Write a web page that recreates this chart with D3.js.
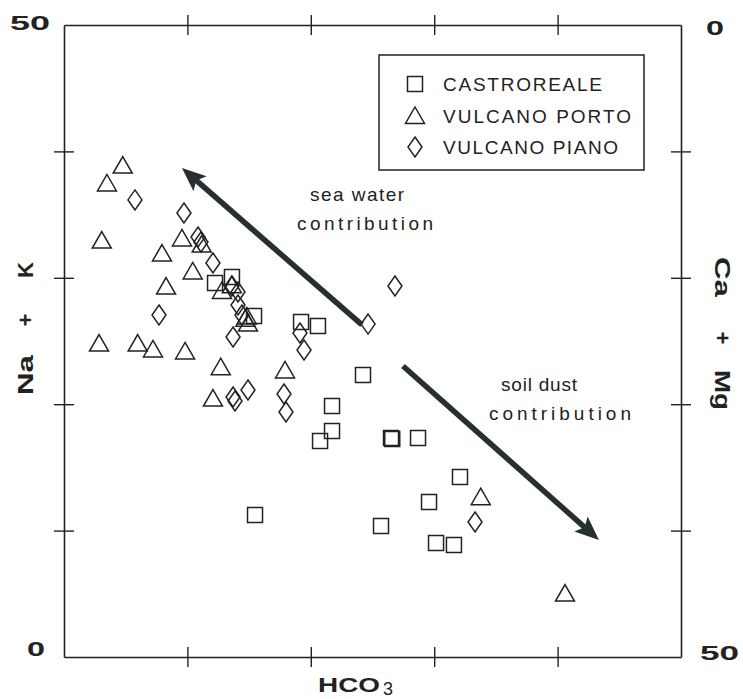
<!DOCTYPE html>
<html>
<head>
<meta charset="utf-8">
<script src="https://cdn.jsdelivr.net/npm/d3@7"></script>
<style>
  body { margin: 0; background: #fff; }
  svg { display: block; }
  text { font-family: "Liberation Sans", Arial, sans-serif; fill: #222; }
</style>
</head>
<body>
<svg id="chart" width="743" height="699"></svg>
<script>
// Water composition: HCO3 (x) against Na + K (left, %) and Ca + Mg (right, %)
const seriesNames = ["CASTROREALE", "VULCANO PORTO", "VULCANO PIANO"];
const tickValues = [10, 20, 30, 40];
const endLabelsLeft = ["0", "50"];
const endLabelsRight = ["0", "50"];

// [HCO3, Na + K]
const castroreale = [
  [12.24, 29.59], [13.61, 30.06], [15.40, 26.98], [15.48, 11.23],
  [19.21, 26.50], [20.58, 26.19], [24.23, 22.31], [21.72, 19.86],
  [21.72, 17.88], [20.75, 17.09], [26.50, 17.33], [26.60, 17.25],
  [28.69, 17.33], [32.09, 14.24], [29.58, 12.26], [25.69, 10.36],
  [30.15, 9.02], [31.60, 8.86]
];
const vulcanoPorto = [
  [4.76, 38.92], [3.48, 37.50], [3.06, 32.99], [9.56, 33.15],
  [11.16, 32.67], [7.94, 31.96], [10.43, 30.54], [8.27, 29.35],
  [2.84, 24.84], [5.97, 24.84], [7.21, 24.37], [9.81, 24.21],
  [12.70, 22.97], [12.07, 20.49], [12.80, 29.00], [13.60, 29.45],
  [14.81, 26.98], [14.70, 26.80], [14.91, 26.42], [17.91, 22.71],
  [33.77, 12.68], [40.60, 5.06]
];
const vulcanoPiano = [
  [5.75, 36.16], [9.72, 35.13], [10.86, 33.23], [11.10, 32.83],
  [12.07, 31.17], [7.70, 27.06], [13.61, 29.35], [14.10, 28.88],
  [14.10, 27.85], [14.42, 27.06], [13.70, 25.32], [14.91, 21.12],
  [13.70, 20.57], [13.86, 20.25], [17.83, 20.81], [17.99, 19.38],
  [19.12, 25.63], [19.45, 24.29], [24.64, 26.34], [26.82, 29.35],
  [33.31, 10.68]
];

const svg = d3.select("#chart");
const ink = "#222";

const x = d3.scaleLinear().domain([0, 50]).range([64, 681]);
const y = d3.scaleLinear().domain([0, 50]).range([657, 25]);      // Na + K
const yR = d3.scaleLinear().domain([0, 50]).range([25, 657]);     // Ca + Mg

// Frame with ticks that cross each side
function frameAxis(axis, translate, crossAttr) {
  const g = svg.append("g")
    .attr("transform", translate)
    .call(axis.tickValues(tickValues).tickSize(10).tickSizeOuter(0).tickFormat(""));
  g.select(".domain").attr("stroke", ink).attr("stroke-width", 1.6);
  g.selectAll(".tick line").attr("stroke", ink).attr("stroke-width", 1.4).attr(crossAttr[0], crossAttr[1]);
  return g;
}
frameAxis(d3.axisBottom(x), `translate(0,${y(0)})`, ["y1", -10]);
frameAxis(d3.axisTop(x), `translate(0,${y(50)})`, ["y1", 10]);
frameAxis(d3.axisLeft(y), `translate(${x(0)},0)`, ["x1", 10]);
frameAxis(d3.axisRight(yR), `translate(${x(50)},0)`, ["x1", -10]);

// End labels of the scales
const numSize = 21;
function endLabel(txt, xPos, base, len, anchor) {
  svg.append("text").attr("x", xPos).attr("y", base).attr("text-anchor", anchor || "start")
    .attr("font-size", numSize).attr("font-weight", "bold")
    .attr("textLength", len).attr("lengthAdjust", "spacingAndGlyphs").text(txt);
}
endLabel(endLabelsLeft[1], 50, 30, 40, "end");
endLabel(endLabelsLeft[0], 27, 656, 18);
endLabel(endLabelsRight[0], 706, 35, 18);
endLabel(endLabelsRight[1], 700, 660, 39);

// Axis titles
const xt = svg.append("text").attr("y", 692).attr("font-size", 21).attr("font-weight", "bold");
xt.append("tspan").attr("x", 318).attr("textLength", 62).attr("lengthAdjust", "spacingAndGlyphs").text("HCO");
xt.append("tspan").attr("x", 383).attr("dy", 3).attr("font-size", 18).attr("font-weight", "normal").text("3");

function rotatedPiece(txt, cx, cy, angle, len) {
  const t = svg.append("text")
    .attr("transform", `translate(${cx},${cy}) rotate(${angle})`)
    .attr("text-anchor", "middle").attr("font-size", 22).attr("font-weight", "bold").text(txt);
  if (len) t.attr("textLength", len).attr("lengthAdjust", "spacingAndGlyphs");
}
rotatedPiece("Na", 33, 375, -90, 40);
rotatedPiece("+", 33, 320, -90);
rotatedPiece("K", 33, 270, -90);
rotatedPiece("Ca", 715, 277, 90, 40);
rotatedPiece("+", 715, 338, 90);
rotatedPiece("Mg", 715, 390, 90, 40);

// Marker shapes
const shapes = {
  square: "M-7.5,-7.5h15v15h-15Z",
  triangle: "M0,-8.5L9.5,8L-9.5,8Z",
  diamond: "M0,-10L7,0L0,10L-7,0Z"
};
const series = [
  { name: seriesNames[0], shape: shapes.square, values: castroreale },
  { name: seriesNames[1], shape: shapes.triangle, values: vulcanoPorto },
  { name: seriesNames[2], shape: shapes.diamond, values: vulcanoPiano }
];

series.forEach(s => {
  svg.append("g").selectAll("path").data(s.values).join("path")
    .attr("d", s.shape)
    .attr("transform", d => `translate(${x(d[0])},${y(d[1])})`)
    .attr("fill", "none").attr("stroke", ink).attr("stroke-width", 1.5);
});

// Trend arrows
function arrow(from, to) {
  const x0 = x(from[0]), y0 = y(from[1]), x1 = x(to[0]), y1 = y(to[1]);
  const dx = x1 - x0, dy = y1 - y0, L = Math.hypot(dx, dy);
  const ux = dx / L, uy = dy / L, nx = -uy, ny = ux;
  const head = 24, half = 10, notch = 5;
  const bx = x1 - ux * head, by = y1 - uy * head;
  svg.append("line")
    .attr("x1", x0).attr("y1", y0)
    .attr("x2", x1 - ux * (head - notch)).attr("y2", y1 - uy * (head - notch))
    .attr("stroke", "#263033").attr("stroke-width", 5.5);
  svg.append("path")
    .attr("d", `M${x1},${y1}L${bx + nx * half},${by + ny * half}L${x1 - ux * (head - notch)},${y1 - uy * (head - notch)}L${bx - nx * half},${by - ny * half}Z`)
    .attr("fill", "#263033");
}
arrow([24.15, 26.27], [9.56, 38.69]);
arrow([27.47, 23.02], [43.35, 9.26]);

function note(txt, cx, base, len) {
  svg.append("text").attr("x", cx).attr("y", base).attr("text-anchor", "middle")
    .attr("font-size", 19).attr("textLength", len).attr("lengthAdjust", "spacing").text(txt);
}
note("sea water", 357, 201, 94);
note("contribution", 365, 230, 136);
note("soil dust", 539, 391, 76);
note("contribution", 560, 420, 142);

// Legend
const legend = svg.append("g");
legend.append("rect").attr("x", 379).attr("y", 55).attr("width", 265).attr("height", 115)
  .attr("fill", "#fff").attr("stroke", ink).attr("stroke-width", 1.5);
const legendLen = [159, 188, 175];
series.forEach((s, i) => {
  const cy = 84 + i * 31.5;
  legend.append("path").attr("d", s.shape).attr("transform", `translate(415,${cy})`)
    .attr("fill", "none").attr("stroke", ink).attr("stroke-width", 1.5);
  legend.append("text").attr("x", 443).attr("y", cy + 7).attr("font-size", 19)
    .attr("textLength", legendLen[i]).attr("lengthAdjust", "spacing").text(s.name);
});
</script>
</body>
</html>
